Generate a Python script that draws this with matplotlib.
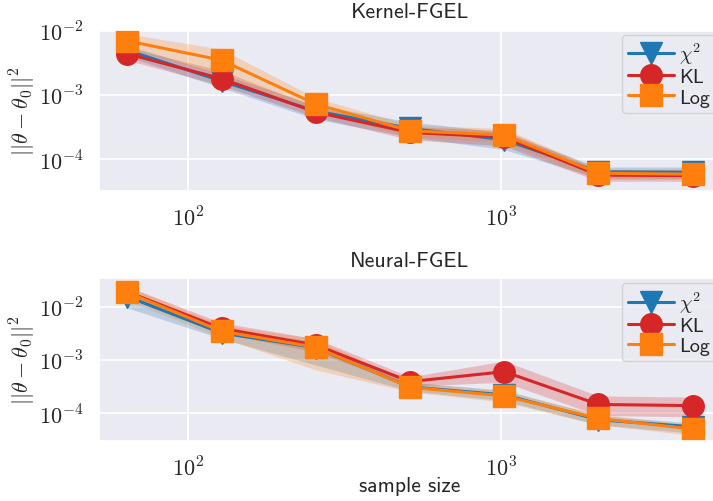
import matplotlib
matplotlib.use("Agg")
import matplotlib.pyplot as plt
import matplotlib.ticker as mticker
import seaborn as sns
import numpy as np

sns.set_theme(style="darkgrid")
plt.rcParams['font.family'] = ['cmss10', 'DejaVu Sans']
plt.rcParams['mathtext.fontset'] = 'cm'
plt.rcParams['axes.formatter.use_mathtext'] = True

sample_sizes = [64, 128, 256, 512, 1024, 2048, 4096]
series_labels = [r"$\chi^2$", "KL", "Log"]
series_colors = ["#1f77b4", "#d62728", "#ff7f0e"]
series_markers = ["v", "o", "s"]

# Kernel-FGEL
kernel_chi2 = [5.0e-3, 1.65e-3, 5.6e-4, 3.0e-4, 2.0e-4, 6.3e-5, 6.2e-5]
kernel_chi2_lo = [4.0e-3, 1.3e-3, 4.2e-4, 2.2e-4, 1.4e-4, 5.0e-5, 5.0e-5]
kernel_chi2_hi = [6.0e-3, 2.1e-3, 7.0e-4, 3.8e-4, 2.6e-4, 7.5e-5, 7.5e-5]
kernel_kl = [4.4e-3, 1.8e-3, 5.4e-4, 2.6e-4, 2.2e-4, 5.6e-5, 5.5e-5]
kernel_kl_lo = [3.5e-3, 1.4e-3, 4.5e-4, 2.0e-4, 1.6e-4, 4.5e-5, 4.5e-5]
kernel_kl_hi = [5.5e-3, 2.4e-3, 6.5e-4, 3.2e-4, 2.8e-4, 6.8e-5, 6.8e-5]
kernel_log = [7.0e-3, 3.5e-3, 7.2e-4, 2.76e-4, 2.37e-4, 6.0e-5, 5.8e-5]
kernel_log_lo = [5.5e-3, 2.0e-3, 5.5e-4, 2.2e-4, 1.8e-4, 4.8e-5, 4.8e-5]
kernel_log_hi = [9.0e-3, 5.2e-3, 9.0e-4, 3.4e-4, 3.0e-4, 7.0e-5, 7.0e-5]

# Neural-FGEL
neural_chi2 = [1.55e-2, 3.2e-3, 1.7e-3, 3.1e-4, 2.2e-4, 7.5e-5, 5.5e-5]
neural_chi2_lo = [9.5e-3, 2.5e-3, 8.0e-4, 2.6e-4, 1.7e-4, 6.0e-5, 4.2e-5]
neural_chi2_hi = [2.1e-2, 4.0e-3, 2.2e-3, 3.8e-4, 2.7e-4, 9.0e-5, 6.5e-5]
neural_kl = [1.9e-2, 3.9e-3, 1.9e-3, 3.9e-4, 6.0e-4, 1.45e-4, 1.38e-4]
neural_kl_lo = [1.5e-2, 3.2e-3, 1.4e-3, 3.2e-4, 3.8e-4, 9.0e-5, 8.5e-5]
neural_kl_hi = [2.4e-2, 5.0e-3, 2.5e-3, 4.8e-4, 9.5e-4, 2.1e-4, 2.0e-4]
neural_log = [1.86e-2, 3.45e-3, 1.73e-3, 3.05e-4, 2.1e-4, 7.9e-5, 5.0e-5]
neural_log_lo = [1.3e-2, 2.6e-3, 6.5e-4, 2.5e-4, 1.6e-4, 6.0e-5, 3.8e-5]
neural_log_hi = [2.4e-2, 4.5e-3, 2.5e-3, 3.8e-4, 2.6e-4, 9.5e-5, 6.0e-5]

panels = [
    ("Kernel-FGEL",
     [(kernel_chi2, kernel_chi2_lo, kernel_chi2_hi),
      (kernel_kl, kernel_kl_lo, kernel_kl_hi),
      (kernel_log, kernel_log_lo, kernel_log_hi)],
     (10**-4.495, 10**-1.98)),
    ("Neural-FGEL",
     [(neural_chi2, neural_chi2_lo, neural_chi2_hi),
      (neural_kl, neural_kl_lo, neural_kl_hi),
      (neural_log, neural_log_lo, neural_log_hi)],
     (10**-4.52, 10**-1.466)),
]


def pow10_fmt(v, pos):
    if v <= 0:
        return ""
    e = int(round(np.log10(v)))
    return r"$10^{%d}$" % e


fig = plt.figure(figsize=(7.13, 5.02), dpi=100)
W, H = 713.0, 502.0
rects = [
    [99 / W, 1 - 191.7 / H, (721 - 99) / W, (191.7 - 30.7) / H],
    [99 / W, 1 - 441.7 / H, (721 - 99) / W, (441.7 - 279.3) / H],
]

for i, (title, series, ylim) in enumerate(panels):
    ax = fig.add_axes(rects[i])
    for (mean, lo, hi), lab, col, mk in zip(series, series_labels, series_colors, series_markers):
        ax.fill_between(sample_sizes, lo, hi, color=col, alpha=0.24, linewidth=0)
        ax.plot(sample_sizes, mean, color=col, marker=mk, markersize=15.5,
                linewidth=2.2, label=lab)
    ax.set_xscale("log")
    ax.set_yscale("log")
    ax.set_ylim(*ylim)
    ax.xaxis.set_major_locator(mticker.LogLocator(base=10, numticks=10))
    ax.yaxis.set_major_locator(mticker.LogLocator(base=10, numticks=10))
    ax.xaxis.set_major_formatter(mticker.FuncFormatter(pow10_fmt))
    ax.yaxis.set_major_formatter(mticker.FuncFormatter(pow10_fmt))
    ax.minorticks_off()
    ax.set_title(title, fontsize=15.8, pad=9)
    ax.set_ylabel(r"$||\theta - \theta_0||^2$", fontsize=16, labelpad=1)
    ax.tick_params(axis="both", labelsize=16, pad=5)
    ax.grid(True, which="major", color="white", linewidth=1.2)
    ax.legend(loc="upper right", fontsize=14.5, handlelength=2.3,
              handletextpad=0.25, labelspacing=0.1, borderpad=0.3,
              borderaxespad=0.25)
    if i == 1:
        ax.set_xlabel("sample size", fontsize=15.5, labelpad=-3)

fig.savefig("out.png", dpi=100)
